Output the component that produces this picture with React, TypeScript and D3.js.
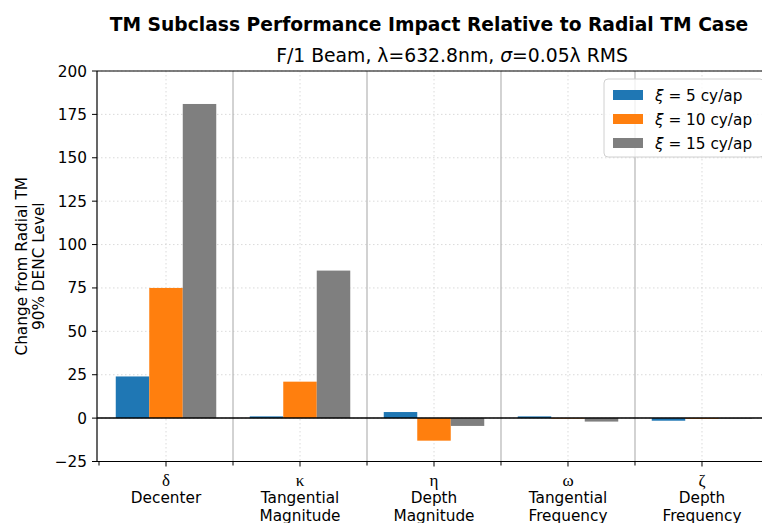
import React from "react";
import * as d3 from "d3";

const greek = ["δ", "κ", "η", "ω", "ζ"];
const names = [["Decenter"], ["Tangential", "Magnitude"], ["Depth", "Magnitude"], ["Tangential", "Frequency"], ["Depth", "Frequency"]];
const xi5 = [24, 1, 3.5, 1, -1.5];
const xi10 = [75, 21, -13, 0, -0.5];
const xi15 = [181, 85, -4.5, -2, 0];
const seriesLabels = ["5", "10", "15"];
const colors = ["#1f77b4", "#ff7f0e", "#7f7f7f"];
const yTicks = [-25, 0, 25, 50, 75, 100, 125, 150, 175, 200];

const W = 762, H = 523;
const L = 97, R = 771, T = 71, B = 461.5;
const font = "DejaVu Sans, sans-serif";
const fs = 15.3;

export default function App() {
  const x = d3.scaleLinear().domain([-0.515, 4.515]).range([L, R]);
  const y = d3.scaleLinear().domain([-25, 200]).range([B, T]);
  const series = [xi5, xi10, xi15];
  const bw = 0.25;
  return (
    <svg width={W} height={H} style={{ position: "absolute", left: 0, top: 0, background: "#fff" }} fontFamily={font}>
      <rect x={0} y={0} width={W} height={H} fill="#fff" />
      <text x={429} y={30.5} textAnchor="middle" fontSize={18.7} fontWeight="bold">TM Subclass Performance Impact Relative to Radial TM Case</text>
      <text x={452} y={61.5} textAnchor="middle" fontSize={18.8}>
        F/1 Beam, λ=632.8nm, <tspan fontStyle="italic">σ</tspan>=0.05λ RMS
      </text>
      {/* grid */}
      {yTicks.map((t) => (
        <line key={"gy" + t} x1={L} x2={R} y1={y(t)} y2={y(t)} stroke="#d0d0d0" strokeWidth={0.8} strokeDasharray="1.5,2.5" />
      ))}
      {greek.map((g, i) => (
        <line key={"gx" + i} x1={x(i)} x2={x(i)} y1={T} y2={B} stroke="#d0d0d0" strokeWidth={0.8} strokeDasharray="1.5,2.5" />
      ))}
      {d3.range(4).map((i) => (
        <line key={"sep" + i} x1={x(i + 0.5)} x2={x(i + 0.5)} y1={T} y2={B} stroke="#b5b5b5" strokeWidth={1.2} />
      ))}
      {/* bars */}
      {series.map((s, k) =>
        s.map((v, i) => {
          const x0 = x(i - 0.375 + k * bw);
          const x1 = x(i - 0.375 + (k + 1) * bw);
          const y0 = y(Math.max(0, v));
          const y1 = y(Math.min(0, v));
          return <rect key={k + "-" + i} x={x0} y={y0} width={x1 - x0} height={Math.max(0.6, y1 - y0)} fill={colors[k]} />;
        })
      )}
      <line x1={L} x2={R} y1={y(0)} y2={y(0)} stroke="#000" strokeWidth={1.5} />
      {/* spines */}
      <line x1={L} x2={L} y1={T} y2={B} stroke="#000" strokeWidth={1.2} />
      <line x1={L} x2={R} y1={T} y2={T} stroke="#000" strokeWidth={1.2} />
      <line x1={L} x2={R} y1={B} y2={B} stroke="#000" strokeWidth={1.2} />
      {/* y ticks */}
      {yTicks.map((t) => (
        <g key={"yt" + t}>
          <line x1={L - 5} x2={L} y1={y(t)} y2={y(t)} stroke="#000" strokeWidth={1} />
          <text x={L - 10} y={y(t) + 5.5} textAnchor="end" fontSize={fs}>{t < 0 ? "\u2212" + Math.abs(t) : t}</text>
        </g>
      ))}
      {/* x ticks */}
      {d3.range(-1, 5).map((i) => (
        <line key={"mt" + i} x1={x(i + 0.5)} x2={x(i + 0.5)} y1={B} y2={B + 4} stroke="#000" strokeWidth={1} />
      ))}
      {greek.map((g, i) => (
        <g key={"xt" + i}>
          <line x1={x(i)} x2={x(i)} y1={B} y2={B + 5} stroke="#000" strokeWidth={1} />
          <text x={x(i)} y={486} textAnchor="middle" fontSize={17} fontFamily="Liberation Serif, serif">{g}</text>
          {names[i].map((n, j) => (
            <text key={j} x={x(i)} y={503 + j * 18} textAnchor="middle" fontSize={fs}>{n}</text>
          ))}
        </g>
      ))}
      {/* y label */}
      <g transform={`translate(0,${(T + B) / 2}) rotate(-90)`}>
        <text x={0} y={27} textAnchor="middle" fontSize={fs}>Change from Radial TM</text>
        <text x={0} y={44} textAnchor="middle" fontSize={fs}>90% DENC Level</text>
      </g>
      {/* legend */}
      <rect x={604} y={79} width={160} height={78} rx={4} fill="#fff" fillOpacity={0.8} stroke="#d0d0d0" strokeWidth={1} />
      {seriesLabels.map((lab, k) => (
        <g key={"lg" + k}>
          <rect x={613} y={90 + k * 24} width={30} height={10} fill={colors[k]} />
          <text x={655} y={100.5 + k * 24} fontSize={fs}>
            <tspan fontStyle="italic">ξ</tspan> = {lab} cy/ap
          </text>
        </g>
      ))}
    </svg>
  );
}
